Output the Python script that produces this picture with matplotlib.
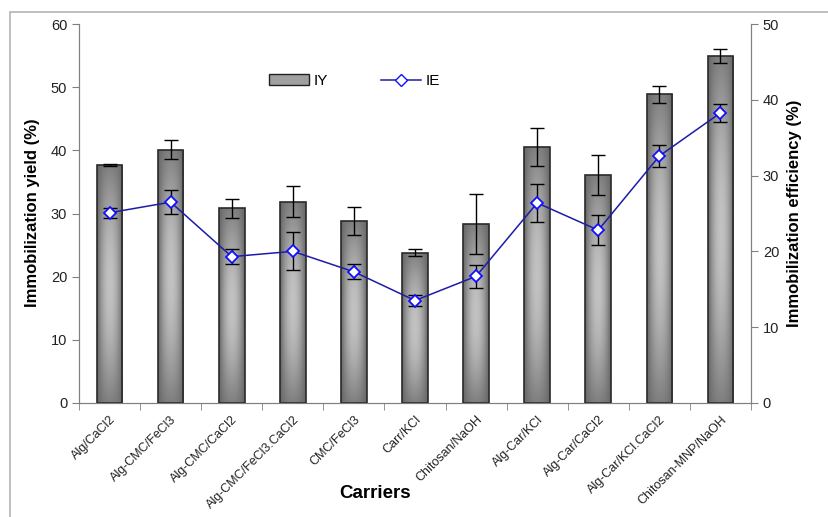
import numpy as np
import matplotlib.pyplot as plt
import matplotlib.transforms as mtransforms
from matplotlib.patches import Rectangle
from matplotlib.lines import Line2D

plt.rcParams['font.family'] = ['Liberation Sans', 'DejaVu Sans']

carriers = ['Alg/CaCl2', 'Alg-CMC/FeCl3', 'Alg-CMC/CaCl2', 'Alg-CMC/FeCl3.CaCl2',
            'CMC/FeCl3', 'Carr/KCl', 'Chitosan/NaOH', 'Alg-Car/KCl',
            'Alg-Car/CaCl2', 'Alg-Car/KCl.CaCl2', 'Chitosan-MNP/NaOH']
iy = [37.7, 40.1, 30.8, 31.9, 28.8, 23.8, 28.3, 40.5, 36.1, 48.9, 55.0]
iy_err = [0.2, 1.5, 1.5, 2.4, 2.2, 0.6, 4.8, 3.0, 3.2, 1.35, 1.1]
ie = [25.1, 26.5, 19.3, 20.0, 17.3, 13.5, 16.7, 26.4, 22.8, 32.6, 38.3]
ie_err = [0.65, 1.55, 1.0, 2.5, 1.0, 0.75, 1.55, 2.5, 2.0, 1.45, 1.2]

fig = plt.figure(figsize=(8.29, 5.17), dpi=100)
# outer border of the figure
fig.patches.append(Rectangle((10 / 829, -0.1), 1.2, 1 - 12 / 517 + 0.1,
                             transform=fig.transFigure, fill=False,
                             edgecolor='#b4b4b4', lw=1.2))
ax = fig.add_axes([79 / 829, 1 - 402.7 / 517, 672 / 829, 378.4 / 517])
ax2 = ax.twinx()

x = np.arange(len(carriers))
width = 0.42

# cylinder-like shading for the bars: dark edges, bright band in the middle
h = np.linspace(-1, 1, 64)[None, :]
v = np.linspace(0, 1, 128)[:, None]
grad = 0.40 + (1 - h ** 2) * (0.10 + 0.26 * np.sin(np.pi * v))

bars = ax.bar(x, iy, width, facecolor='none', edgecolor='#2a2a2a', lw=1.2, zorder=3)
for b in bars:
    im = ax.imshow(grad, cmap='gray', vmin=0, vmax=1, aspect='auto',
                   extent=[b.get_x(), b.get_x() + b.get_width(), 0, b.get_height()],
                   origin='lower', zorder=2, interpolation='bilinear')
    im.set_clip_path(b)
ax.errorbar(x, iy, yerr=iy_err, fmt='none', ecolor='black', elinewidth=1,
            capsize=5, capthick=1, zorder=4)

ax2.errorbar(x, ie, yerr=ie_err, fmt='none', ecolor='black', elinewidth=1,
             capsize=5, capthick=1, zorder=4)
ax2.plot(x, ie, color='#1c1ca8', lw=1.1, marker='D', markersize=6,
         markerfacecolor='white', markeredgecolor='#1010ff', markeredgewidth=1.3,
         zorder=5)

ax.set_xlim(-0.5, len(carriers) - 0.5)
ax.set_ylim(0, 60)
ax2.set_ylim(0, 50)
ax.set_yticks(range(0, 61, 10))
ax2.set_yticks(range(0, 51, 10))
ax.set_aspect('auto')

for a in (ax, ax2):
    a.spines['top'].set_visible(False)
    for s in ('left', 'right', 'bottom'):
        a.spines[s].set_color('#808080')
ax.tick_params(axis='y', colors='#808080', labelcolor='#222222', labelsize=10.5,
               length=5, direction='out')
ax2.tick_params(axis='y', colors='#808080', labelcolor='#222222', labelsize=10.5,
                length=5, direction='out')

ax.set_xticks(x)
ax.set_xticklabels(carriers, rotation=45, ha='right', rotation_mode='anchor',
                   fontsize=9, color='#222222')
shift = mtransforms.ScaledTranslation(-3 / 100, 0, fig.dpi_scale_trans)
for lbl in ax.get_xticklabels():
    lbl.set_transform(lbl.get_transform() + shift)
ax.set_xticks(np.arange(-0.5, len(carriers)), minor=True)
ax.tick_params(axis='x', which='major', length=0, pad=8)
ax.tick_params(axis='x', which='minor', length=5, color='#808080')

fig.text(33 / 829, 1 - 213 / 517, 'Immobilization yield (%)', fontsize=12,
         fontweight='bold', rotation=90, ha='center', va='center')
fig.text(795 / 829, 1 - 213 / 517, 'Immobilization efficiency (%)', fontsize=12,
         fontweight='bold', rotation=90, ha='center', va='center')
fig.text(375 / 829, 1 - 493 / 517, 'Carriers', fontsize=13.5,
         fontweight='bold', ha='center', va='center')

handles = [Rectangle((0, 0), 1, 1, facecolor='#a0a0a0', edgecolor='#222222', lw=1),
           Line2D([], [], color='#1c1ca8', lw=1.1, marker='D', markersize=6,
                  markerfacecolor='white', markeredgecolor='#1010ff')]
ax.legend(handles, ['IY', 'IE'], ncol=2, frameon=False, fontsize=11,
          loc='center', bbox_to_anchor=(0.41, 0.85), columnspacing=3.5,
          handlelength=2.6, handletextpad=0.3)

fig.savefig('out.png', dpi=100)
